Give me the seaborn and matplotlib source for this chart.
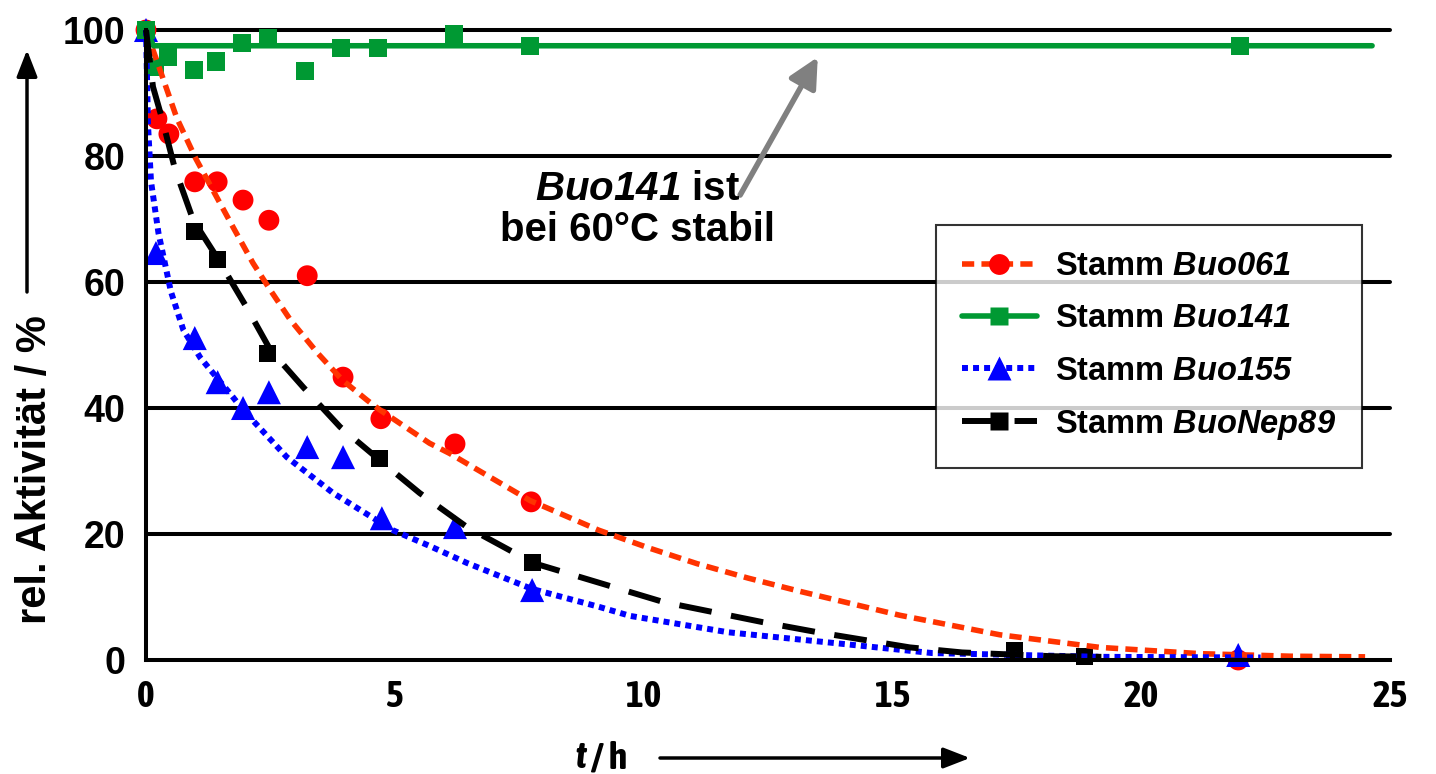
import matplotlib
matplotlib.use("Agg")
import matplotlib.pyplot as plt
import pandas as pd
import seaborn as sns
from matplotlib import font_manager
from matplotlib.lines import Line2D

# measured points (t / h, rel. activity / %)
t_061 = [0, 0.22, 0.46, 0.98, 1.43, 1.95, 2.47, 3.24, 3.96, 4.72, 6.21, 7.74, 21.95]
a_061 = [100, 85.9, 83.5, 75.9, 75.9, 73.0, 69.8, 61.0, 44.9, 38.3, 34.3, 25.1, 0.0]

t_141 = [0, 0.18, 0.44, 0.96, 1.40, 1.93, 2.45, 3.20, 3.92, 4.66, 6.19, 7.72, 21.99]
a_141 = [100, 94.2, 95.7, 93.7, 95.0, 98.0, 98.7, 93.5, 97.1, 97.1, 99.4, 97.5, 97.5]

t_155 = [0, 0.20, 0.98, 1.44, 1.95, 2.47, 3.24, 3.96, 4.74, 6.21, 7.76, 21.95]
a_155 = [100, 64.6, 51.1, 44.1, 40.0, 42.5, 33.8, 32.2, 22.5, 21.1, 11.1, 0.8]

t_nep = [0, 0.97, 1.44, 2.45, 4.69, 7.76, 17.46, 18.87]
a_nep = [100, 68.0, 63.6, 48.7, 32.0, 15.4, 1.5, 0.5]

# fitted curves
ft_061 = [0, 0.28, 0.62, 1.0, 1.35, 1.75, 2.15, 2.5, 2.9, 3.45, 3.95, 4.45, 4.7, 5.7,
          6.1, 7.72, 9.1, 10.1, 11.07, 12.1, 13.14, 15.15, 17.16, 19.17, 21.2, 23.0, 24.5]
fa_061 = [100, 93.7, 86.0, 79.6, 74.5, 68.7, 63.0, 58.7, 54.0, 48.7, 44.4, 41.2, 39.7, 34.4,
          32.8, 25.3, 20.6, 17.8, 15.3, 13.0, 10.9, 7.1, 4.0, 2.0, 1.0, 0.6, 0.5]

ft_141 = [0, 0.15, 24.64]
fa_141 = [100, 97.5, 97.5]

ft_155 = [0, 0.04, 0.1, 0.25, 0.5, 0.75, 1.09, 1.75, 1.95, 2.83, 3.76, 4.96, 5.7, 6.45,
          7.75, 9.12, 9.73, 11.7, 13.7, 15.8, 19.2, 22.4]
fa_155 = [100, 85, 76, 67.8, 58.5, 52.4, 48.0, 41.7, 39.7, 32.2, 26.5, 20.6, 18.1, 15.4,
          11.3, 8.4, 7.0, 4.4, 2.8, 1.1, 0.5, 0.4]

ft_nep = [0, 0.14, 0.32, 0.58, 0.95, 1.42, 2.02, 2.5, 3.16, 3.9, 4.7, 5.5, 6.45, 7.78,
          9.47, 10.4, 12.4, 13.5, 15.35, 16.4, 18.2, 19.2]
fa_nep = [100, 91, 86, 78, 69.8, 64, 56, 49.2, 43.3, 37, 31.7, 26.5, 21.1, 15.4,
          11.4, 9.2, 6.0, 4.4, 2.0, 1.2, 0.6, 0.5]

labels = [r"Stamm $\mathit{Buo061}$", r"Stamm $\mathit{Buo141}$",
          r"Stamm $\mathit{Buo155}$", r"Stamm $\mathit{BuoNep89}$"]
y_ticks = [0, 20, 40, 60, 80, 100]
x_ticks = [0, 5, 10, 15, 20, 25]

series = [
    dict(t=t_061, a=a_061, ft=ft_061, fa=fa_061, mk="o", s=225, mc="#FF0000",
         lc="#FF3300", lw=4.0, ls=(0, (2.2, 1.3)), z=3.0),
    dict(t=t_141, a=a_141, ft=ft_141, fa=fa_141, mk="s", s=169, mc="#009933",
         lc="#009933", lw=4.0, ls="-", z=3.3),
    dict(t=t_155, a=a_155, ft=ft_155, fa=fa_155, mk="^", s=300, mc="#0000FF",
         lc="#0000FF", lw=4.3, ls=(0, (1.0, 0.85)), z=3.1),
    dict(t=t_nep, a=a_nep, ft=ft_nep, fa=fa_nep, mk="s", s=150, mc="#000000",
         lc="#000000", lw=4.3, ls=(0, (5.5, 3.3)), z=3.2),
]

sns.set_style("white")
plt.rcParams["font.family"] = ["Liberation Sans", "DejaVu Sans"]
plt.rcParams["font.weight"] = "bold"
plt.rcParams["text.color"] = "black"
plt.rcParams["xtick.color"] = "black"
plt.rcParams["ytick.color"] = "black"
plt.rcParams["mathtext.fontset"] = "custom"
plt.rcParams["mathtext.it"] = "Liberation Sans:italic:bold"
plt.rcParams["mathtext.rm"] = "Liberation Sans:italic:bold"
plt.rcParams["mathtext.default"] = "it"


# a bold condensed family for the x axis, if one is installed
def _w(f):
    w = f.weight
    return w if isinstance(w, int) else font_manager.weight_dict.get(w, 400)


bold_narrow = sorted({f.name for f in font_manager.fontManager.ttflist
                      if ("Narrow" in f.name or "Condensed" in f.name) and _w(f) >= 600})
narrow = bold_narrow[:1] + ["Liberation Sans"]

fig = plt.figure(figsize=(14.36, 7.74), dpi=100)
ax = fig.add_axes([146 / 1436, 1 - 660 / 774, 1244 / 1436, 630 / 774])

for y in y_ticks[1:]:
    ax.axhline(y, color="black", lw=2.9, zorder=0.5, clip_on=False)

for sr in series:
    pts = pd.DataFrame({"t": sr["t"], "a": sr["a"]})
    sns.scatterplot(data=pts, x="t", y="a", marker=sr["mk"], s=sr["s"], color=sr["mc"],
                    edgecolor="none", linewidth=0, clip_on=False, zorder=sr["z"], ax=ax)
    fit = pd.DataFrame({"t": sr["ft"], "a": sr["fa"]})
    sns.lineplot(data=fit, x="t", y="a", color=sr["lc"], lw=sr["lw"], linestyle=sr["ls"],
                 clip_on=False, zorder=4, ax=ax)

ax.set_xlim(0, 25)
ax.set_ylim(0, 100)
ax.set_xticks(x_ticks)
ax.set_yticks(y_ticks)
ax.set_xlabel("")
ax.set_ylabel("")
ax.tick_params(length=0)
ax.tick_params(axis="x", pad=14)
ax.tick_params(axis="y", pad=15)
for lab in ax.get_xticklabels():
    lab.set_family(narrow)
    lab.set_fontsize(27)
    lab.set_fontweight("bold")
for lab in ax.get_yticklabels():
    lab.set_fontsize(27)
    lab.set_fontweight("bold")

for side in ["top", "right"]:
    ax.spines[side].set_visible(False)
for side in ["left", "bottom"]:
    ax.spines[side].set_color("black")
    ax.spines[side].set_linewidth(2.9)
    ax.spines[side].set_zorder(5)

# legend
handles = [Line2D([], [], color=sr["lc"], lw=sr["lw"], linestyle=sr["ls"], marker=sr["mk"],
                  markersize=sr["s"] ** 0.5, markerfacecolor=sr["mc"], markeredgecolor="none")
           for sr in series]
leg = ax.legend(handles, labels, loc="upper right", bbox_to_anchor=(0.9775, 0.6905),
                borderaxespad=0, fontsize=23.5, frameon=True, fancybox=False,
                handlelength=2.3, handletextpad=0.55, labelspacing=0.65, borderpad=0.8,
                numpoints=1)
leg.get_frame().set_edgecolor("black")
leg.get_frame().set_linewidth(1.5)
leg.set_zorder(6)

# annotation
ax.annotate("", xy=(13.5, 95.7), xytext=(11.94, 73.8),
            arrowprops=dict(arrowstyle="-|>,head_length=1.0,head_width=0.5", color="#808080",
                            lw=4, mutation_scale=18, shrinkA=0, shrinkB=0))
ax.text(9.87, 74.8, r"$\mathit{Buo141}$ ist", ha="center", va="center", fontsize=29,
        fontweight="bold")
ax.text(9.87, 68.3, "bei 60°C stabil", ha="center", va="center", fontsize=29,
        fontweight="bold")

# axis labels with arrows
fig.text(35 / 1436, 1 - 470 / 774, "rel. Aktivität / %", rotation=90, ha="center",
         va="center", fontsize=30, fontweight="bold")
ax.annotate("", xy=(27 / 1436, 1 - 50 / 774), xytext=(27 / 1436, 1 - 292 / 774),
            xycoords="figure fraction", textcoords="figure fraction", annotation_clip=False,
            arrowprops=dict(arrowstyle="-|>,head_length=0.9,head_width=0.35", color="black",
                            lw=2.5, mutation_scale=18, shrinkA=0, shrinkB=0))

fig.text(586 / 1436, 1 - 758 / 774, "t", ha="right", va="center", fontsize=27,
         fontweight="bold", style="italic", family=narrow)
fig.text(591 / 1436, 1 - 758 / 774, "/ h", ha="left", va="center", fontsize=27,
         fontweight="bold", family=narrow)
ax.annotate("", xy=(970 / 1436, 1 - 758 / 774), xytext=(660 / 1436, 1 - 758 / 774),
            xycoords="figure fraction", textcoords="figure fraction", annotation_clip=False,
            arrowprops=dict(arrowstyle="-|>,head_length=0.9,head_width=0.35", color="black",
                            lw=2.5, mutation_scale=18, shrinkA=0, shrinkB=0))

fig.savefig("out.png", dpi=100)
